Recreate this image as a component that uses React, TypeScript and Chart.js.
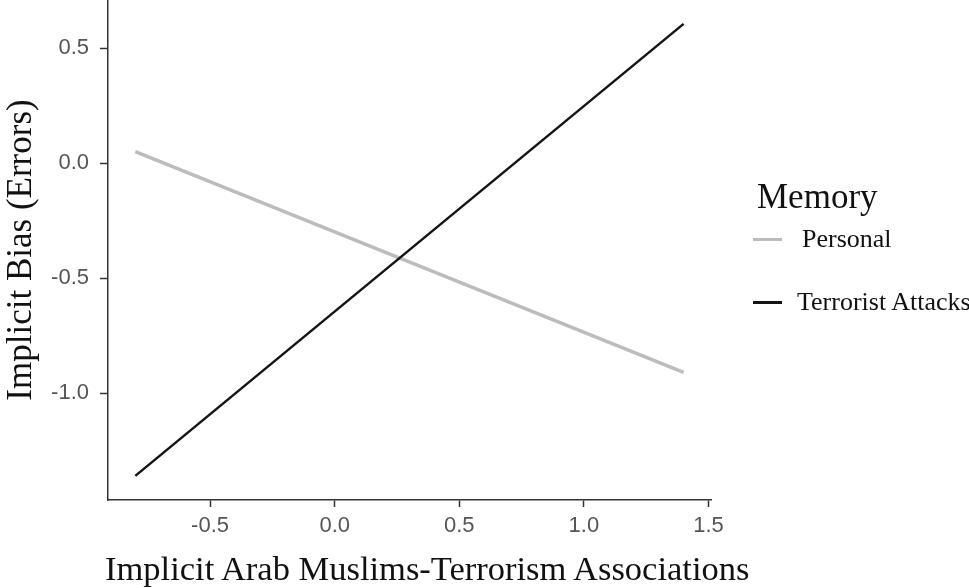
import React, { useEffect, useRef } from "react";
import { Chart, registerables } from "chart.js";

Chart.register(...registerables);

// ---- data ----
const seriesNames = ["Personal", "Terrorist Attacks"];
const xEnds = [-0.8, 1.4];
const personalValues = [0.05, -0.91];
const terroristValues = [-1.36, 0.605];
const xTicks = [-0.5, 0.0, 0.5, 1.0, 1.5];
const yTicks = [-1.0, -0.5, 0.0, 0.5];
const xTitle = "Implicit Arab Muslims-Terrorism Associations";
const yTitle = "Implicit Bias (Errors)";
const legendTitle = "Memory";

const W = 969;
const H = 588;
const SERIF = "'Liberation Serif', 'Times New Roman', serif";
const SANS = "'Liberation Sans', Arial, sans-serif";
const AXIS = "#333333";
const PERSONAL_COLOR = "#bcbcbc";
const TERROR_COLOR = "#141414";

export default function App() {
  const ref = useRef<HTMLCanvasElement | null>(null);

  useEffect(() => {
    if (!ref.current) return;
    const chart = new Chart(ref.current, {
      type: "line",
      data: {
        datasets: [
          {
            label: seriesNames[0],
            data: xEnds.map((x, i) => ({ x, y: personalValues[i] })),
            borderColor: PERSONAL_COLOR,
            borderWidth: 3.5,
            pointRadius: 0,
            order: 2,
          },
          {
            label: seriesNames[1],
            data: xEnds.map((x, i) => ({ x, y: terroristValues[i] })),
            borderColor: TERROR_COLOR,
            borderWidth: 2.5,
            pointRadius: 0,
            order: 1,
          },
        ],
      },
      options: {
        responsive: false,
        animation: false,
        layout: { padding: { left: 0, top: 0, right: W - 711, bottom: 0 } },
        plugins: { legend: { display: false }, tooltip: { enabled: false } },
        scales: {
          x: {
            type: "linear",
            min: -0.9096,
            max: 1.51,
            afterBuildTicks: (s: any) => {
              s.ticks = xTicks.map((v) => ({ value: v }));
            },
            afterFit: (s: any) => {
              s.height = H - 500;
              s.paddingLeft = 0;
              s.paddingRight = 0;
            },
            grid: {
              display: true,
              drawOnChartArea: false,
              drawTicks: true,
              tickLength: 7,
              tickColor: AXIS,
              tickWidth: 1.5,
            },
            border: { display: true, color: AXIS, width: 1.5 },
            ticks: {
              color: "#555555",
              font: { family: SANS, size: 22 },
              padding: 6,
              callback: (v: any) => Number(v).toFixed(1),
            },
            title: { display: false, text: xTitle },
          },
          y: {
            type: "linear",
            min: -1.465,
            max: 0.7087,
            afterBuildTicks: (s: any) => {
              s.ticks = yTicks.map((v) => ({ value: v }));
            },
            afterFit: (s: any) => {
              s.width = 108;
              s.paddingTop = 0;
              s.paddingBottom = 0;
            },
            grid: {
              display: true,
              drawOnChartArea: false,
              drawTicks: true,
              tickLength: 8,
              tickColor: AXIS,
              tickWidth: 1.5,
            },
            border: { display: true, color: AXIS, width: 1.5 },
            ticks: {
              color: "#555555",
              font: { family: SANS, size: 22 },
              padding: 11,
              callback: (v: any) => Number(v).toFixed(1),
            },
            title: {
              display: true,
              text: yTitle,
              color: "#111111",
              font: { family: SERIF, size: 35 },
              padding: { top: 1, bottom: 0 },
            },
          },
        },
      },
    });
    return () => chart.destroy();
  }, []);

  const colors = [PERSONAL_COLOR, TERROR_COLOR];
  const widths = [3, 3];
  const keyY = [239, 302];
  const textLeft = [802, 797];

  return (
    <div
      style={{
        position: "absolute",
        left: 0,
        top: 0,
        width: W,
        height: H,
        background: "#ffffff",
        overflow: "hidden",
      }}
    >
      <canvas ref={ref} width={W} height={H} style={{ display: "block" }} />
      <div
        style={{
          position: "absolute",
          left: 105,
          top: 548,
          fontFamily: SERIF,
          fontSize: 34.5,
          lineHeight: "40px",
          color: "#111111",
          whiteSpace: "nowrap",
        }}
      >
        {xTitle}
      </div>
      <div
        style={{
          position: "absolute",
          left: 757,
          top: 177,
          fontFamily: SERIF,
          fontSize: 35,
          lineHeight: "40px",
          color: "#111111",
          whiteSpace: "nowrap",
        }}
      >
        {legendTitle}
      </div>
      {seriesNames.map((name, i) => (
        <React.Fragment key={name}>
          <div
            style={{
              position: "absolute",
              left: 753,
              top: keyY[i] - widths[i] / 2,
              width: 29,
              height: widths[i],
              background: colors[i],
            }}
          />
          <div
            style={{
              position: "absolute",
              left: textLeft[i],
              top: keyY[i] - 16,
              fontFamily: SERIF,
              fontSize: 26,
              lineHeight: "32px",
              color: "#111111",
              whiteSpace: "nowrap",
            }}
          >
            {name}
          </div>
        </React.Fragment>
      ))}
    </div>
  );
}
